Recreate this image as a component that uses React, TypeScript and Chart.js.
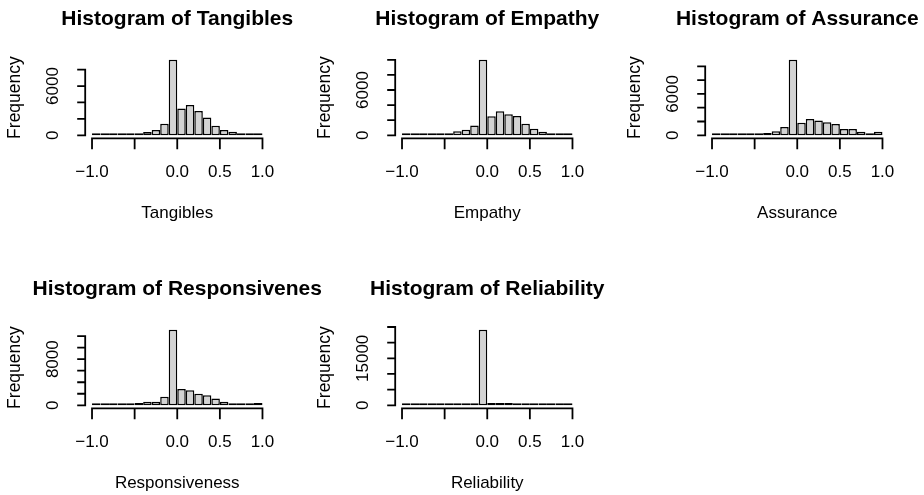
import React, { useEffect, useRef } from 'react';
import { Chart, registerables } from 'chart.js';

Chart.register(...registerables);

// ---------- data ----------
const BREAKS = [-1.0, -0.9, -0.8, -0.7, -0.6, -0.5, -0.4, -0.3, -0.2, -0.1, 0.0, 0.1, 0.2, 0.3, 0.4, 0.5, 0.6, 0.7, 0.8, 0.9, 1.0];
const X_TICKS = [-1.0, -0.5, 0.0, 0.5, 1.0];
const X_TICK_LABELS = ['\u22121.0', '', '0.0', '0.5', '1.0'];
const Y_LABEL = 'Frequency';

const TITLES = [
  'Histogram of Tangibles',
  'Histogram of Empathy',
  'Histogram of Assurance',
  'Histogram of Responsivenes',
  'Histogram of Reliability',
];
const X_LABELS = ['Tangibles', 'Empathy', 'Assurance', 'Responsiveness', 'Reliability'];

const TANGIBLES = [15, 20, 25, 35, 50, 160, 400, 640, 1400, 9200, 3280, 3680, 2960, 2160, 1160, 640, 440, 240, 120, 40];
const EMPATHY = [20, 25, 30, 40, 220, 260, 520, 740, 1300, 10000, 2520, 3170, 2780, 2560, 1520, 870, 480, 260, 80, 30];
const ASSURANCE = [20, 25, 30, 40, 240, 290, 330, 570, 1190, 10950, 1810, 2380, 2140, 1900, 1620, 900, 900, 520, 290, 520];
const RESPONSIVENESS = [20, 25, 30, 40, 60, 400, 625, 625, 1480, 13100, 2840, 2610, 1990, 1760, 1190, 625, 340, 340, 110, 400];
const RELIABILITY = [20, 20, 25, 25, 30, 30, 40, 40, 60, 24100, 720, 700, 690, 680, 660, 30, 25, 20, 20, 15];

const Y_TICKS_TANGIBLES = [0, 2000, 4000, 6000, 8000];
const Y_TICKS_EMPATHY = [0, 2000, 4000, 6000, 8000, 10000];
const Y_TICKS_ASSURANCE = [0, 2000, 4000, 6000, 8000, 10000];
const Y_TICKS_RESPONSIVENESS = [0, 2000, 4000, 6000, 8000, 10000, 12000];
const Y_TICKS_RELIABILITY = [0, 5000, 10000, 15000, 20000, 25000];

const Y_LABELS_TANGIBLES = ['0', '', '', '6000', ''];
const Y_LABELS_EMPATHY = ['0', '', '', '6000', '', ''];
const Y_LABELS_ASSURANCE = ['0', '', '', '6000', '', ''];
const Y_LABELS_RESPONSIVENESS = ['0', '', '', '', '8000', '', ''];
const Y_LABELS_RELIABILITY = ['0', '', '', '15000', '', ''];

// ---------- layout / style ----------
const COL_STEP = 310;
const ROW_STEP = 270;
const EXTRA = 20; // canvas overhang on each side so long titles are not clipped
const PANEL_W = COL_STEP + 2 * EXTRA;
const PANEL_H = 270;
const FONT = "'Liberation Sans', Arial, sans-serif";
const PAD = { left: 85.2 + EXTRA, right: 40.7 + EXTRA, top: 56.8, bottom: 131.7 };

type PanelDef = {
  title: string;
  xLabel: string;
  counts: number[];
  yTicks: number[];
  yTickLabels: string[];
  col: number;
  row: number;
};

const PANELS: PanelDef[] = [
  { title: TITLES[0], xLabel: X_LABELS[0], counts: TANGIBLES, yTicks: Y_TICKS_TANGIBLES, yTickLabels: Y_LABELS_TANGIBLES, col: 0, row: 0 },
  { title: TITLES[1], xLabel: X_LABELS[1], counts: EMPATHY, yTicks: Y_TICKS_EMPATHY, yTickLabels: Y_LABELS_EMPATHY, col: 1, row: 0 },
  { title: TITLES[2], xLabel: X_LABELS[2], counts: ASSURANCE, yTicks: Y_TICKS_ASSURANCE, yTickLabels: Y_LABELS_ASSURANCE, col: 2, row: 0 },
  { title: TITLES[3], xLabel: X_LABELS[3], counts: RESPONSIVENESS, yTicks: Y_TICKS_RESPONSIVENESS, yTickLabels: Y_LABELS_RESPONSIVENESS, col: 0, row: 1 },
  { title: TITLES[4], xLabel: X_LABELS[4], counts: RELIABILITY, yTicks: Y_TICKS_RELIABILITY, yTickLabels: Y_LABELS_RELIABILITY, col: 1, row: 1 },
];

function makeRAxesPlugin(p: PanelDef) {
  return {
    id: 'rAxes',
    afterDraw(chart: any) {
      const ctx = chart.ctx as CanvasRenderingContext2D;
      const area = chart.chartArea;
      const xs = chart.scales.x;
      const ys = chart.scales.y;
      ctx.save();
      ctx.strokeStyle = '#000';
      ctx.fillStyle = '#000';
      ctx.lineWidth = 1.8;
      ctx.lineCap = 'butt';

      // x axis
      const yAxis = area.bottom;
      const x0 = xs.getPixelForValue(X_TICKS[0]);
      const x1 = xs.getPixelForValue(X_TICKS[X_TICKS.length - 1]);
      ctx.beginPath();
      ctx.moveTo(x0 - 0.9, yAxis);
      ctx.lineTo(x1 + 0.9, yAxis);
      X_TICKS.forEach((t) => {
        const px = xs.getPixelForValue(t);
        ctx.moveTo(px, yAxis);
        ctx.lineTo(px, yAxis + 11);
      });
      ctx.stroke();
      ctx.font = `17px ${FONT}`;
      ctx.textAlign = 'center';
      ctx.textBaseline = 'alphabetic';
      X_TICKS.forEach((t, i) => {
        const lab = X_TICK_LABELS[i];
        if (lab) ctx.fillText(lab, xs.getPixelForValue(t), yAxis + 38.5);
      });
      // x label
      const cx = (area.left + area.right) / 2;
      ctx.fillText(p.xLabel, cx, yAxis + 80);

      // y axis
      const xAxis = area.left;
      const yb = ys.getPixelForValue(p.yTicks[0]);
      const yt = ys.getPixelForValue(p.yTicks[p.yTicks.length - 1]);
      ctx.beginPath();
      ctx.moveTo(xAxis, yb + 0.9);
      ctx.lineTo(xAxis, yt - 0.9);
      p.yTicks.forEach((t) => {
        const py = ys.getPixelForValue(t);
        ctx.moveTo(xAxis, py);
        ctx.lineTo(xAxis - 8, py);
      });
      ctx.stroke();
      p.yTicks.forEach((t, i) => {
        const lab = p.yTickLabels[i];
        if (!lab) return;
        ctx.save();
        ctx.translate(xAxis - 27.7, ys.getPixelForValue(t));
        ctx.rotate(-Math.PI / 2);
        ctx.fillText(lab, 0, 0);
        ctx.restore();
      });
      // y label
      const cy = (area.top + area.bottom) / 2;
      ctx.save();
      ctx.font = `17.5px ${FONT}`;
      ctx.translate(xAxis - 65.5, cy);
      ctx.rotate(-Math.PI / 2);
      ctx.fillText(Y_LABEL, 0, 0);
      ctx.restore();

      // title
      ctx.font = `bold 21px ${FONT}`;
      ctx.fillText(p.title, cx, area.top - 32);
      ctx.restore();
    },
  };
}

function Panel({ p }: { p: PanelDef }) {
  const ref = useRef<HTMLCanvasElement | null>(null);
  useEffect(() => {
    if (!ref.current) return;
    const centers = BREAKS.slice(0, -1).map((b, i) => (b + BREAKS[i + 1]) / 2);
    const maxCount = Math.max(...p.counts);
    const lo = BREAKS[0];
    const hi = BREAKS[BREAKS.length - 1];
    const xr = hi - lo;
    const chart = new Chart(ref.current, {
      type: 'bar',
      data: {
        datasets: [
          {
            data: p.counts.map((c, i) => ({ x: centers[i], y: c })),
            backgroundColor: '#d3d3d3',
            borderColor: '#000',
            borderWidth: 1.5,
            borderSkipped: false,
            inflateAmount: 0,
            minBarLength: 2,
            categoryPercentage: 1,
            barPercentage: 1,
          } as any,
        ],
      },
      options: {
        animation: false,
        responsive: false,
        devicePixelRatio: 1,
        layout: { padding: PAD },
        plugins: {
          legend: { display: false },
          tooltip: { enabled: false },
          title: { display: false },
        },
        scales: {
          x: { type: 'linear', display: false, min: lo - 0.04 * xr, max: hi + 0.04 * xr, offset: false },
          y: { type: 'linear', display: false, min: -0.04 * maxCount, max: 1.04 * maxCount },
        },
      } as any,
      plugins: [makeRAxesPlugin(p)],
    });
    return () => chart.destroy();
  }, [p]);
  return (
    <canvas
      ref={ref}
      width={PANEL_W}
      height={PANEL_H}
      style={{
        position: 'absolute',
        left: p.col * COL_STEP - EXTRA,
        top: p.row * ROW_STEP,
        width: PANEL_W,
        height: PANEL_H,
      }}
    />
  );
}

export default function App() {
  return (
    <div style={{ position: 'absolute', left: 0, top: 0, width: 924, height: 495, overflow: 'hidden', background: '#fff' }}>
      {PANELS.map((p, i) => (
        <Panel key={i} p={p} />
      ))}
    </div>
  );
}
